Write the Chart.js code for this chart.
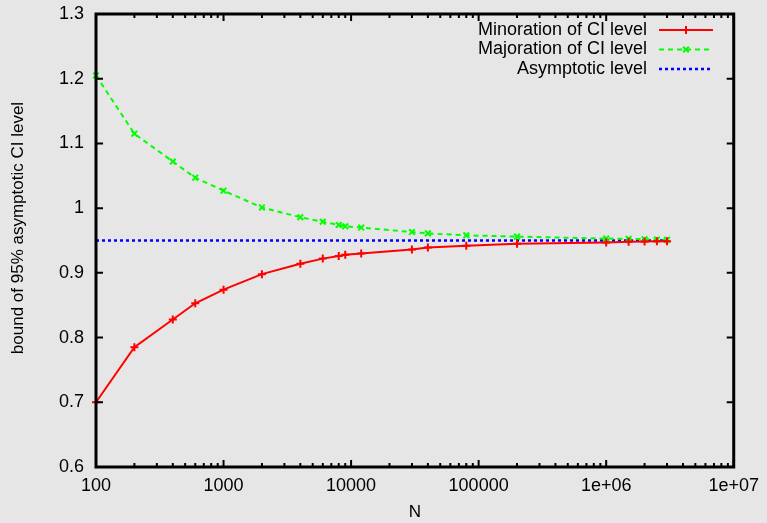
<!DOCTYPE html>
<html>
<head>
<meta charset="utf-8">
<script src="https://cdn.jsdelivr.net/npm/chart.js@4/dist/chart.umd.min.js"></script>
<style>
  html, body { margin: 0; padding: 0; background: #e6e6e6; }
  #wrap { width: 767px; height: 523px; position: relative; }
</style>
</head>
<body>
<div id="wrap"><canvas id="grafica"></canvas></div>
<script>
// Datos
var valoresN = [100, 200, 400, 600, 1000, 2000, 4000, 6000, 8000, 9000, 12000,
                30000, 40000, 80000, 200000, 1000000, 1500000, 2000000, 2500000, 3000000];
var minoracion = [0.700, 0.785, 0.828, 0.853, 0.874, 0.898, 0.914, 0.922, 0.926, 0.928, 0.930,
                  0.936, 0.939, 0.942, 0.945, 0.947, 0.948, 0.9485, 0.949, 0.949];
var majoracion = [1.205, 1.115, 1.072, 1.047, 1.027, 1.001, 0.986, 0.979, 0.974, 0.972, 0.970,
                  0.963, 0.961, 0.958, 0.956, 0.953, 0.9525, 0.952, 0.9515, 0.951];
var nivelAsintotico = 0.95;
var etiquetasX = [100, 1000, 10000, 100000, 1000000, 10000000];
var textosX = ["100", "1000", "10000", "100000", "1e+06", "1e+07"];
var etiquetasLeyenda = ["Minoration of CI level", "Majoration of CI level", "Asymptotic level"];
var tituloY = "bound of 95% asymptotic CI level";

var fuente = "'Liberation Sans', Arial, Helvetica, sans-serif";

function puntos(xs, ys) {
  return xs.map(function (x, i) { return { x: x, y: ys[i] }; });
}

// Fondo gris de toda la imagen
var fondo = {
  id: 'fondo',
  beforeDraw: function (chart) {
    var ctx = chart.ctx;
    ctx.save();
    ctx.fillStyle = '#e6e6e6';
    ctx.fillRect(0, 0, chart.width, chart.height);
    ctx.restore();
  }
};

// Marco negro con marcas hacia adentro (estilo gnuplot) + titulo del eje y
var marco = {
  id: 'marco',
  afterDraw: function (chart) {
    var ctx = chart.ctx, a = chart.chartArea;
    var sx = chart.scales.x, sy = chart.scales.y;
    ctx.save();
    ctx.strokeStyle = '#000';
    ctx.lineWidth = 2;
    // marcas eje x (mayores y menores)
    for (var d = 100; d <= 10000000; d *= 10) {
      for (var m = 1; m <= 9; m++) {
        var v = d * m;
        if (v > 10000000) break;
        var px = sx.getPixelForValue(v);
        var len = (m === 1) ? 7 : 4;
        ctx.beginPath();
        ctx.moveTo(px, a.bottom); ctx.lineTo(px, a.bottom - len);
        ctx.moveTo(px, a.top); ctx.lineTo(px, a.top + len);
        ctx.stroke();
      }
    }
    // marcas eje y
    for (var k = 6; k <= 13; k++) {
      var py = sy.getPixelForValue(k / 10);
      ctx.beginPath();
      ctx.moveTo(a.left, py); ctx.lineTo(a.left + 7, py);
      ctx.moveTo(a.right, py); ctx.lineTo(a.right - 7, py);
      ctx.stroke();
    }
    ctx.lineWidth = 3;
    ctx.strokeRect(a.left, a.top, a.right - a.left, a.bottom - a.top);

    // titulo eje y, un poco por encima del centro como en gnuplot
    ctx.translate(18, 228);
    ctx.rotate(-Math.PI / 2);
    ctx.fillStyle = '#000';
    ctx.font = '17px ' + fuente;
    ctx.textAlign = 'center';
    ctx.textBaseline = 'middle';
    ctx.fillText(tituloY, 0, 0);
    ctx.restore();
  }
};

// Leyenda: texto alineado a la derecha y muestra de linea a su derecha
var leyenda = {
  id: 'leyenda',
  afterDraw: function (chart) {
    var ctx = chart.ctx;
    ctx.save();
    ctx.font = '18px ' + fuente;
    ctx.textAlign = 'right';
    ctx.textBaseline = 'middle';
    chart.data.datasets.forEach(function (ds, i) {
      var y = 30 + i * 19.5;
      ctx.fillStyle = '#000';
      ctx.fillText(etiquetasLeyenda[i], 647, y);
      ctx.strokeStyle = ds.borderColor;
      ctx.lineWidth = ds.borderWidth;
      ctx.setLineDash(ds.borderDash || []);
      ctx.beginPath();
      ctx.moveTo(659, y); ctx.lineTo(713, y);
      ctx.stroke();
      ctx.setLineDash([]);
      if (ds.pointRadius > 0) {
        Chart.helpers.drawPoint(ctx, {
          pointStyle: ds.pointStyle, radius: ds.pointRadius, rotation: 0,
          borderWidth: ds.pointBorderWidth
        }, 686, y);
      }
    });
    ctx.restore();
  }
};

var ctx = document.getElementById('grafica');
new Chart(ctx, {
  type: 'line',
  data: {
    datasets: [{
      label: etiquetasLeyenda[0],
      data: puntos(valoresN, minoracion),
      borderColor: '#ff0000',
      backgroundColor: '#ff0000',
      borderWidth: 2,
      pointStyle: 'cross',
      pointRadius: 4,
      pointBorderWidth: 2,
      tension: 0
    }, {
      label: etiquetasLeyenda[1],
      data: puntos(valoresN, majoracion),
      borderColor: '#00ff00',
      backgroundColor: '#00ff00',
      borderWidth: 2,
      borderDash: [5, 4],
      pointStyle: 'crossRot',
      pointRadius: 4,
      pointBorderWidth: 2,
      tension: 0
    }, {
      label: etiquetasLeyenda[2],
      data: puntos([valoresN[0], valoresN[valoresN.length - 1]], [nivelAsintotico, nivelAsintotico]),
      borderColor: '#0000ff',
      backgroundColor: '#0000ff',
      borderWidth: 2.5,
      borderDash: [3, 3],
      pointRadius: 0,
      tension: 0
    }]
  },
  options: {
    responsive: true,
    maintainAspectRatio: false,
    animation: false,
    clip: false,
    layout: { padding: { left: 0, top: 0, right: 31, bottom: 0 } },
    plugins: {
      legend: { display: false },
      tooltip: { enabled: false }
    },
    scales: {
      x: {
        type: 'logarithmic',
        min: 100,
        max: 10000000,
        afterBuildTicks: function (scale) {
          scale.ticks = etiquetasX.map(function (v) { return { value: v }; });
        },
        afterFit: function (scale) { scale.height = 56; },
        grid: { display: false, drawTicks: false },
        border: { display: false },
        ticks: {
          autoSkip: false,
          maxRotation: 0,
          padding: 8,
          color: '#000',
          font: { family: fuente, size: 18 },
          callback: function (v) {
            var i = etiquetasX.indexOf(v);
            return i >= 0 ? textosX[i] : '';
          }
        },
        title: {
          display: true,
          text: 'N',
          color: '#000',
          font: { family: fuente, size: 17 },
          padding: { top: 0, bottom: 0 }
        }
      },
      y: {
        min: 0.6,
        max: 1.3,
        afterFit: function (scale) { scale.width = 96; scale.paddingTop = 14; },
        grid: { display: false, drawTicks: false },
        border: { display: false },
        ticks: {
          stepSize: 0.1,
          padding: 12,
          color: '#000',
          font: { family: fuente, size: 18 },
          callback: function (v) { return String(Math.round(v * 10) / 10); }
        },
        title: { display: false }
      }
    }
  },
  plugins: [fondo, marco, leyenda]
});
</script>
</body>
</html>
